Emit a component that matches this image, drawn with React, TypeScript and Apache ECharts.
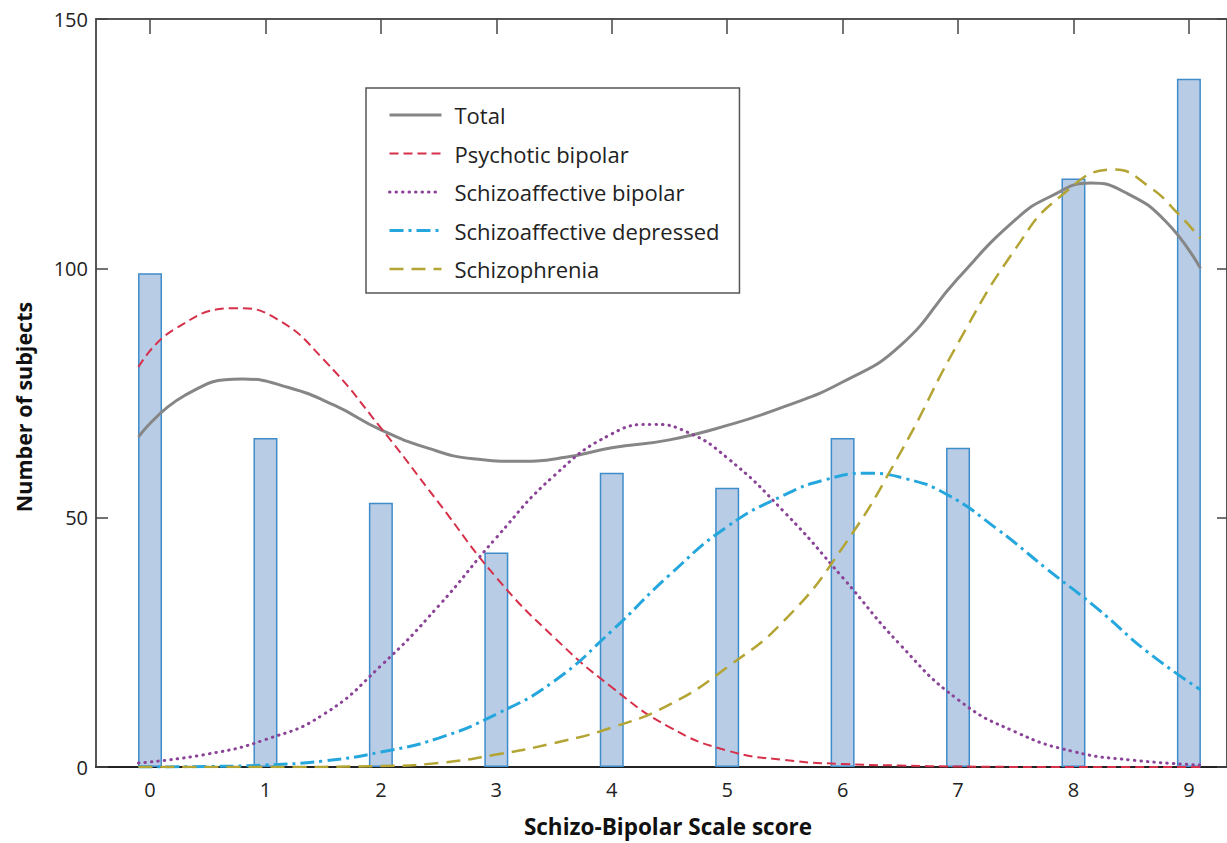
import React, { useEffect, useRef } from "react";
import * as echarts from "echarts";

const scores = [0, 1, 2, 3, 4, 5, 6, 7, 8, 9];
const subjects = [99, 66, 53, 43, 59, 56, 66, 64, 118, 138];

const xTitle = "Schizo-Bipolar Scale score";
const yTitle = "Number of subjects";

const totalX = [-0.1, 0.3, 0.8, 1.2, 1.6, 2, 2.4, 2.8, 3.2, 3.6, 4, 4.5, 5, 5.5, 6, 6.5, 7, 7.5, 7.8, 8.15, 8.45, 8.8, 9.1];
const totalY = [66.2, 74.5, 77.8, 76.1, 72.5, 67.6, 64, 61.8, 61.3, 62.1, 64, 65.6, 68.5, 72.3, 77.2, 84.5, 98, 109.8, 114.4, 117.1, 115.2, 109.4, 100];

const psychoticX = [-0.1, 0.2, 0.75, 1.1, 1.5, 2, 2.5, 3, 3.5, 4, 4.5, 5, 5.5, 6, 6.5, 7, 8, 9.1];
const psychoticY = [80.2, 87.6, 92, 89.8, 81.8, 68, 53, 38, 26, 16, 8, 3.3, 1.4, 0.6, 0.3, 0.1, 0, 0];

const schizoBipX = [-0.1, 0.5, 1, 1.5, 2, 2.5, 3, 3.5, 4, 4.35, 4.65, 5, 5.5, 6, 6.5, 7, 7.5, 8, 8.5, 9.1];
const schizoBipY = [0.8, 2.6, 5.5, 10.5, 20.3, 32.3, 46, 58.4, 66.8, 68.7, 67.2, 62, 51, 38, 24.5, 13.5, 7, 3.1, 1.4, 0.4];

const schizoDepX = [-0.1, 0.5, 1, 1.5, 2, 2.5, 3, 3.5, 4, 4.5, 5, 5.5, 5.85, 6.2, 6.55, 6.9, 7.34, 7.77, 8.2, 8.64, 9.1];
const schizoDepY = [0, 0.1, 0.4, 1.2, 3, 5.8, 10.6, 17.2, 27.3, 38.5, 48.2, 54.6, 57.6, 58.9, 57.8, 54.7, 47.7, 39.7, 31.9, 23.1, 15.5];

const schizophreniaX = [-0.1, 1, 2, 2.5, 3, 3.5, 4, 4.5, 5, 5.5, 6, 6.5, 7, 7.5, 7.88, 8.35, 8.66, 8.9, 9.1];
const schizophreniaY = [0, 0, 0.2, 0.8, 2.5, 4.8, 7.9, 12.5, 20, 29.5, 44, 63, 85, 104, 114.3, 119.8, 116.3, 111.1, 106];

const FONT = "'Open Sans', 'Noto Sans', sans-serif";

const pair = (xs: number[], ys: number[]) => xs.map((x, i) => [x, ys[i]]);

export default function App() {
  const ref = useRef<HTMLDivElement>(null);
  useEffect(() => {
    if (!ref.current) return;
    const chart = echarts.init(ref.current, null, { renderer: "svg" });
    const lineSeries = (name: string, xs: number[], ys: number[], color: string, width: number, type: any, cap = "butt") => ({
      name,
      type: "line",
      data: pair(xs, ys),
      smooth: 0.5,
      symbol: "none",
      showSymbol: false,
      z: 3,
      lineStyle: { color, width, type, cap },
      itemStyle: { color },
    });
    chart.setOption({
      animation: false,
      backgroundColor: "#ffffff",
      grid: { left: 96, right: 0, top: 19, bottom: 76, containLabel: false },
      legend: {
        orient: "vertical",
        left: 366,
        top: 88,
        padding: [14, 20, 11, 22],
        itemWidth: 52,
        itemHeight: 14,
        itemGap: 12.5,
        backgroundColor: "#ffffff",
        borderColor: "#555555",
        borderWidth: 1.5,
        itemStyle: { opacity: 0 },
        lineStyle: { width: "inherit", type: "inherit", color: "inherit" },
        textStyle: { fontFamily: FONT, fontSize: 22, color: "#222", lineHeight: 26, padding: [0, 0, 0, 8] },
        data: ["Total", "Psychotic bipolar", "Schizoaffective bipolar", "Schizoaffective depressed", "Schizophrenia"],
      },
      graphic: [
        {
          type: "text",
          x: 668,
          y: 826,
          style: { text: xTitle, font: `bold 22.5px ${FONT}`, fill: "#111", align: "center", verticalAlign: "middle" },
        },
        {
          type: "text",
          x: 23,
          y: 407,
          rotation: Math.PI / 2,
          style: { text: yTitle, font: `bold 21.5px ${FONT}`, fill: "#111", align: "center", verticalAlign: "middle" },
        },
      ],
      xAxis: [
        {
          type: "value",
          min: -0.468,
          max: 9.33,
          position: "bottom",
          splitLine: { show: false },
          axisLine: { show: true, onZero: false, lineStyle: { color: "#222", width: 2 } },
          axisTick: { show: true, inside: true, length: 15, customValues: scores, lineStyle: { color: "#222", width: 1.5 } },
          axisLabel: { show: true, customValues: scores, margin: 12, fontFamily: FONT, fontSize: 20, color: "#222" },
        },
        {
          type: "value",
          min: -0.468,
          max: 9.33,
          position: "top",
          splitLine: { show: false },
          axisLine: { show: true, onZero: false, lineStyle: { color: "#555", width: 2 } },
          axisTick: { show: true, inside: true, length: 15, customValues: scores, lineStyle: { color: "#444", width: 1.5 } },
          axisLabel: { show: false },
        },
      ],
      yAxis: [
        {
          type: "value",
          min: 0,
          max: 150,
          interval: 50,
          position: "left",
          splitLine: { show: false },
          axisLine: { show: true, onZero: false, lineStyle: { color: "#555", width: 2 } },
          axisTick: { show: true, inside: true, length: 12, lineStyle: { color: "#444", width: 1.5 } },
          axisLabel: { margin: 8, fontFamily: FONT, fontSize: 20, color: "#222" },
        },
        {
          type: "value",
          min: 0,
          max: 150,
          interval: 50,
          position: "right",
          splitLine: { show: false },
          axisLine: { show: true, onZero: false, lineStyle: { color: "#555", width: 2 } },
          axisTick: { show: true, inside: true, length: 10, lineStyle: { color: "#444", width: 1.5 } },
          axisLabel: { show: false },
        },
      ],
      series: [
        {
          name: "Subjects",
          type: "bar",
          data: scores.map((s, i) => [s, subjects[i]]),
          barWidth: 24,
          z: 2,
          itemStyle: { color: "#b8cce6", borderColor: "#3f8ccb", borderWidth: 1.5 },
        },
        lineSeries("Total", totalX, totalY, "#868686", 3, "solid"),
        lineSeries("Psychotic bipolar", psychoticX, psychoticY, "#d6304a", 2, [9, 5]),
        lineSeries("Schizoaffective bipolar", schizoBipX, schizoBipY, "#8a4396", 3, [0.5, 6], "round"),
        lineSeries("Schizoaffective depressed", schizoDepX, schizoDepY, "#25a7dd", 3, [14, 5, 3, 5]),
        lineSeries("Schizophrenia", schizophreniaX, schizophreniaY, "#b3a433", 2.5, [14, 8]),
      ],
    });
    return () => chart.dispose();
  }, []);
  return <div ref={ref} style={{ position: "absolute", left: 0, top: 0, width: 1227, height: 843 }} />;
}
